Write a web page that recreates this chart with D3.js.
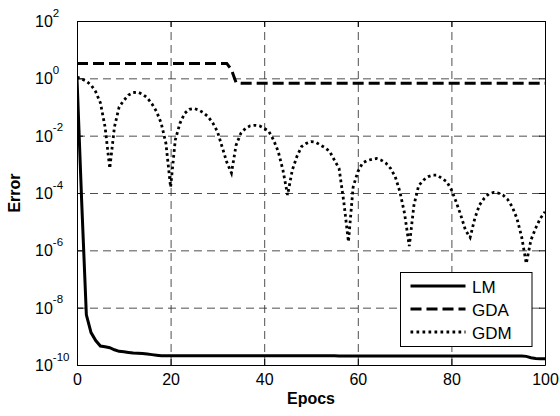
<!DOCTYPE html>
<html>
<head>
<meta charset="utf-8">
<script src="https://cdn.jsdelivr.net/npm/d3@7"></script>
<style>
  body { margin: 0; background: #fff; overflow: hidden; }
  svg { display: block; }
  text { font-family: Arial, "Liberation Sans", Helvetica, sans-serif; fill: #000; }
</style>
</head>
<body>
<div id="chart"></div>
<script>
// epochs 0..100
const epochs = [
  0, 1, 2, 3, 4, 5, 6, 7, 8, 9,
  10, 11, 12, 13, 14, 15, 16, 17, 18, 19,
  20, 21, 22, 23, 24, 25, 26, 27, 28, 29,
  30, 31, 32, 33, 34, 35, 36, 37, 38, 39,
  40, 41, 42, 43, 44, 45, 46, 47, 48, 49,
  50, 51, 52, 53, 54, 55, 56, 57, 58, 59,
  60, 61, 62, 63, 64, 65, 66, 67, 68, 69,
  70, 71, 72, 73, 74, 75, 76, 77, 78, 79,
  80, 81, 82, 83, 84, 85, 86, 87, 88, 89,
  90, 91, 92, 93, 94, 95, 96, 97, 98, 99,
  100
];

const lmError = [
  1.0, 5.0e-5, 5.6e-9, 1.35e-9, 7.1e-10, 4.6e-10, 4.3e-10, 4.0e-10, 3.4e-10, 3.0e-10,
  2.9e-10, 2.75e-10, 2.6e-10, 2.55e-10, 2.5e-10, 2.4e-10, 2.3e-10, 2.2e-10, 2.1e-10, 2.1e-10,
  2.1e-10, 2.1e-10, 2.1e-10, 2.1e-10, 2.1e-10, 2.1e-10, 2.1e-10, 2.1e-10, 2.1e-10, 2.1e-10,
  2.1e-10, 2.1e-10, 2.1e-10, 2.1e-10, 2.1e-10, 2.1e-10, 2.1e-10, 2.1e-10, 2.1e-10, 2.1e-10,
  2.1e-10, 2.1e-10, 2.1e-10, 2.1e-10, 2.1e-10, 2.1e-10, 2.1e-10, 2.1e-10, 2.1e-10, 2.1e-10,
  2.1e-10, 2.1e-10, 2.1e-10, 2.1e-10, 2.1e-10, 2.1e-10, 2.05e-10, 2.05e-10, 2.05e-10, 2.05e-10,
  2.05e-10, 2.05e-10, 2.05e-10, 2.05e-10, 2.05e-10, 2.05e-10, 2.05e-10, 2.05e-10, 2.05e-10, 2.05e-10,
  2.05e-10, 2.05e-10, 2.05e-10, 2.05e-10, 2.05e-10, 2.05e-10, 2.05e-10, 2.05e-10, 2.05e-10, 2.05e-10,
  2.05e-10, 2.05e-10, 2.05e-10, 2.05e-10, 2.05e-10, 2.05e-10, 2.05e-10, 2.05e-10, 2.05e-10, 2.05e-10,
  2.05e-10, 2.05e-10, 2.05e-10, 2.05e-10, 2.05e-10, 2.05e-10, 2.0e-10, 1.8e-10, 1.7e-10, 1.65e-10,
  1.65e-10
];

const gdaError = [
  3.3, 3.3, 3.3, 3.3, 3.3, 3.3, 3.3, 3.3, 3.3, 3.3,
  3.3, 3.3, 3.3, 3.3, 3.3, 3.3, 3.3, 3.3, 3.3, 3.3,
  3.3, 3.3, 3.3, 3.3, 3.3, 3.3, 3.3, 3.3, 3.3, 3.3,
  3.3, 3.3, 3.3, 2.0, 0.7, 0.68, 0.68, 0.68, 0.68, 0.68,
  0.68, 0.68, 0.68, 0.68, 0.68, 0.68, 0.68, 0.68, 0.68, 0.68,
  0.68, 0.68, 0.68, 0.68, 0.68, 0.68, 0.68, 0.68, 0.68, 0.68,
  0.68, 0.68, 0.68, 0.68, 0.68, 0.68, 0.68, 0.68, 0.68, 0.68,
  0.68, 0.68, 0.68, 0.68, 0.68, 0.68, 0.68, 0.68, 0.68, 0.68,
  0.68, 0.68, 0.68, 0.68, 0.68, 0.68, 0.68, 0.68, 0.68, 0.68,
  0.68, 0.68, 0.68, 0.68, 0.68, 0.68, 0.68, 0.68, 0.68, 0.68,
  0.68
];

const gdmError = [
  1.1, 0.95, 0.79, 0.59, 0.34, 0.14, 2.0e-2, 7.2e-4, 2.0e-2, 0.10,
  0.17, 0.26, 0.32, 0.33, 0.28, 0.21, 0.13, 6.9e-2, 2.7e-2, 5.4e-3,
  1.6e-4, 7.1e-3, 2.7e-2, 6.0e-2, 8.3e-2, 8.9e-2, 7.9e-2, 6.3e-2, 4.6e-2, 2.8e-2,
  1.4e-2, 4.1e-3, 1.2e-3, 5.0e-4, 4.7e-3, 1.2e-2, 1.8e-2, 2.2e-2, 2.3e-2, 2.2e-2,
  1.8e-2, 1.4e-2, 7.1e-3, 2.8e-3, 6.3e-4, 8.5e-5, 6.3e-4, 1.9e-3, 4.2e-3, 5.4e-3,
  6.2e-3, 5.9e-3, 4.7e-3, 3.8e-3, 2.8e-3, 1.4e-3, 7.2e-4, 5.0e-5, 2.0e-6, 1.6e-4,
  5.5e-4, 1.1e-3, 1.35e-3, 1.5e-3, 1.6e-3, 1.4e-3, 1.1e-3, 7.2e-4, 3.7e-4, 1.1e-4,
  1.9e-5, 1.4e-6, 3.8e-5, 1.8e-4, 2.8e-4, 3.7e-4, 4.2e-4, 4.2e-4, 3.2e-4, 2.5e-4,
  1.3e-4, 5.0e-5, 1.7e-5, 5.1e-6, 2.8e-6, 1.3e-5, 3.8e-5, 6.5e-5, 9.3e-5, 1.05e-4,
  1.0e-4, 8.5e-5, 6.0e-5, 3.3e-5, 1.3e-5, 3.0e-6, 3.5e-7, 2.3e-6, 5.9e-6, 1.3e-5,
  2.2e-5
];

const seriesNames = ["LM", "GDA", "GDM"];
const xTicks = [0, 20, 40, 60, 80, 100];
const yTicks = [1e-10, 1e-8, 1e-6, 1e-4, 1e-2, 1e0, 1e2];
const yTickExponents = ["-10", "-8", "-6", "-4", "-2", "0", "2"];

const width = 560, height = 416;
const margin = { top: 21, right: 15, bottom: 51, left: 77 };
const innerWidth = width - margin.left - margin.right;
const innerHeight = height - margin.top - margin.bottom;

const svg = d3.select("#chart")
  .append("svg")
    .attr("width", width)
    .attr("height", height);

svg.append("rect")
  .attr("width", width)
  .attr("height", height)
  .attr("fill", "#fff");

const inner = svg.append("g")
  .attr("transform", `translate(${margin.left}, ${margin.top})`);

// scales
const xScale = d3.scaleLinear().domain([0, 100]).range([0, innerWidth]);
const yScale = d3.scaleLog().domain([1e-10, 1e2]).range([innerHeight, 0]);

// grid (dashed, MATLAB style)
const styleGrid = g => {
  g.select(".domain").remove();
  g.selectAll("text").remove();
  g.selectAll("line")
    .attr("stroke", "#222")
    .attr("stroke-width", 0.8)
    .attr("stroke-dasharray", "8,5");
};

inner.append("g")
    .attr("class", "grid-x")
    .attr("transform", `translate(0, ${innerHeight})`)
    .call(d3.axisBottom(xScale).tickValues(xTicks).tickSize(-innerHeight))
  .call(styleGrid);

inner.append("g")
    .attr("class", "grid-y")
    .call(d3.axisLeft(yScale).tickValues(yTicks).tickSize(-innerWidth))
  .call(styleGrid);

// data lines
inner.append("defs").append("clipPath")
    .attr("id", "clip")
  .append("rect")
    .attr("width", innerWidth)
    .attr("height", innerHeight);

const lineGen = d3.line()
  .x(d => xScale(d[0]))
  .y(d => yScale(d[1]));

const series = [
  { name: "LM", values: lmError, dash: null },
  { name: "GDA", values: gdaError, dash: "11,5" },
  { name: "GDM", values: gdmError, dash: "2.7,3.1" }
];

const lines = inner.append("g").attr("clip-path", "url(#clip)");
series.forEach(s => {
  lines.append("path")
    .attr("d", lineGen(epochs.map((e, i) => [e, s.values[i]])))
    .attr("fill", "none")
    .attr("stroke", "#000")
    .attr("stroke-width", s.name === "GDM" ? 2.8 : 3)
    .attr("stroke-dasharray", s.dash);
});

// box axes with inward ticks
const styleAxis = g => {
  g.select(".domain").attr("stroke", "#000").attr("stroke-width", 1);
  g.selectAll(".tick line").attr("stroke", "#000");
};
const noText = g => g.selectAll("text").remove();

inner.append("g")
    .attr("class", "axis-x")
    .attr("transform", `translate(0, ${innerHeight})`)
    .call(d3.axisBottom(xScale).tickValues(xTicks).tickSizeInner(-6).tickSizeOuter(0).tickPadding(8.6).tickFormat(d3.format("d")))
  .call(styleAxis)
  .call(g => g.selectAll("text").attr("font-size", 16).attr("fill", "#000"));

inner.append("g")
    .call(d3.axisTop(xScale).tickValues(xTicks).tickSizeInner(-6).tickSizeOuter(0))
  .call(styleAxis)
  .call(noText);

inner.append("g")
    .attr("class", "axis-y")
    .call(d3.axisLeft(yScale).tickValues(yTicks).tickSizeInner(-6).tickSizeOuter(0))
  .call(styleAxis)
  .call(noText);

inner.append("g")
    .attr("transform", `translate(${innerWidth}, 0)`)
    .call(d3.axisRight(yScale).tickValues(yTicks).tickSizeInner(-6).tickSizeOuter(0))
  .call(styleAxis)
  .call(noText);

// y tick labels as 10^n
const yLabels = inner.append("g").attr("class", "y-labels");
yTicks.forEach((t, i) => {
  const label = yLabels.append("text")
    .attr("x", -42)
    .attr("y", yScale(t) + 6)
    .attr("font-size", 16);
  label.append("tspan").text("10");
  label.append("tspan")
    .attr("dy", -10.5)
    .attr("font-size", 11.5)
    .text(yTickExponents[i]);
});

// axis titles
svg.append("text")
  .attr("x", margin.left + innerWidth / 2)
  .attr("y", 404)
  .attr("text-anchor", "middle")
  .attr("font-size", 16)
  .attr("font-weight", "bold")
  .text("Epocs");

svg.append("text")
  .attr("transform", `translate(20, ${margin.top + innerHeight / 2}) rotate(-90)`)
  .attr("text-anchor", "middle")
  .attr("font-size", 16)
  .attr("font-weight", "bold")
  .text("Error");

// legend
const legend = svg.append("g")
  .attr("transform", "translate(400.5, 272.5)");

legend.append("rect")
  .attr("width", 131.5)
  .attr("height", 74)
  .attr("fill", "#fff")
  .attr("stroke", "#000")
  .attr("stroke-width", 1);

series.forEach((s, i) => {
  const y = 13.5 + i * 23;
  legend.append("line")
    .attr("x1", 10).attr("x2", 65)
    .attr("y1", y).attr("y2", y)
    .attr("stroke", "#000")
    .attr("stroke-width", s.name === "GDM" ? 2.8 : 3)
    .attr("stroke-dasharray", s.name === "GDM" ? "2.7,3.3" : s.dash);
  legend.append("text")
    .attr("x", 71.5)
    .attr("y", y + 6.5)
    .attr("font-size", 17)
    .text(seriesNames[i]);
});
</script>
</body>
</html>
